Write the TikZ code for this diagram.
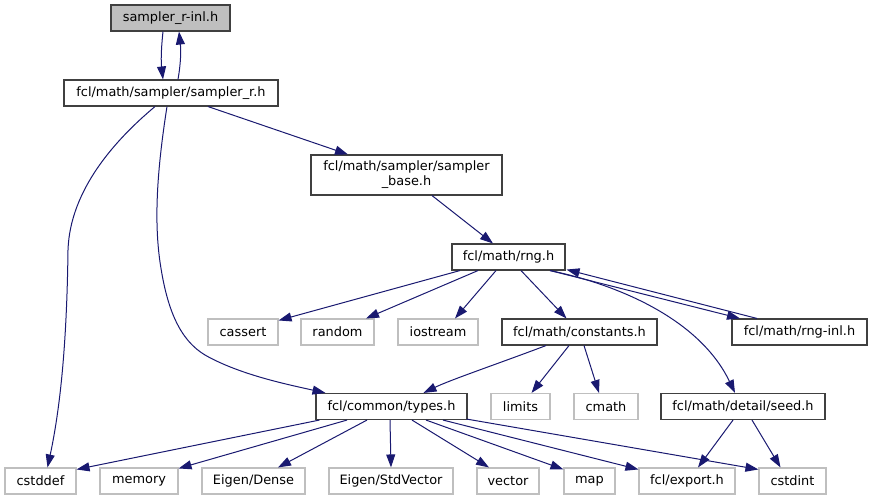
\documentclass[tikz,border=0pt]{standalone}
\usepackage{fontspec}
\setmainfont{DejaVu Sans}
\usetikzlibrary{arrows.meta}
\definecolor{edgec}{HTML}{191970}
\definecolor{dk}{HTML}{404040}
\definecolor{lt}{HTML}{BFBFBF}
\begin{document}
\begin{tikzpicture}[x=1pt,y=-1pt,
  box/.style={draw=dk, line width=1.1pt, fill=white, inner sep=0pt, minimum height=26pt,
    font=\fontsize{12.9}{15}\selectfont, text=black},
  sysbox/.style={box, draw=lt},
  rootbox/.style={box, fill=lt},
  edge/.style={draw=edgec, line width=1pt, -{Triangle[length=13pt,width=9pt]}}]
\useasboundingbox (0,0) rectangle (872,500);

\node[rootbox, minimum width=119pt] (inl) at (170.5,18) {sampler\_r-inl.h};
\node[box, minimum width=214pt] (sr) at (171,93) {fcl/math/sampler/sampler\_r.h};
\node[box, minimum width=191pt, minimum height=40pt, align=center] (base) at (406.5,175) {fcl/math/sampler/sampler\\\_base.h};
\node[box, minimum width=113pt] (rng) at (508.5,257) {fcl/math/rng.h};
\node[sysbox, minimum width=70pt] (cassert) at (243,332) {cassert};
\node[sysbox, minimum width=73pt] (random) at (337.5,332) {random};
\node[sysbox, minimum width=80pt] (iostream) at (438,332) {iostream};
\node[box, minimum width=155pt] (const) at (579.5,332) {fcl/math/constants.h};
\node[box, minimum width=135pt] (rnginl) at (799.5,332) {fcl/math/rng-inl.h};
\node[box, minimum width=151pt] (types) at (391.5,406.5) {fcl/common/types.h};
\node[sysbox, minimum width=59pt] (limits) at (520.5,406.5) {limits};
\node[sysbox, minimum width=64pt] (cmath) at (606,406.5) {cmath};
\node[box, minimum width=164pt] (seed) at (743,406.5) {fcl/math/detail/seed.h};
\node[sysbox, minimum width=71pt] (cstddef) at (40.5,481) {cstddef};
\node[sysbox, minimum width=78pt] (memory) at (139,481) {memory};
\node[sysbox, minimum width=103pt] (dense) at (253.5,481) {Eigen/Dense};
\node[sysbox, minimum width=124pt] (stdvec) at (391,481) {Eigen/StdVector};
\node[sysbox, minimum width=62pt] (vector) at (508,481) {vector};
\node[sysbox, minimum width=51pt] (map) at (589.5,481) {map};
\node[sysbox, minimum width=96pt] (export) at (687,481) {fcl/export.h};
\node[sysbox, minimum width=67pt] (cstdint) at (792.5,481) {cstdint};

% sampler_r-inl <-> sampler_r
\draw[edge] ([xshift=-7.5pt]inl.south) .. controls (161,50) and (161,62) .. ([xshift=-8pt]sr.north);
\draw[edge] ([xshift=7pt]sr.north) .. controls (181,62) and (181,50) .. ([xshift=8.5pt]inl.south);

% sampler_r -> cstddef
\draw[edge] ([xshift=-16pt]sr.south) .. controls (115,140) and (70,190) .. (68,250)
  .. controls (67,330) and (62,400) .. ([xshift=7pt]cstddef.north);
% sampler_r -> types
\draw[edge] ([xshift=-4pt]sr.south) .. controls (157,170) and (154,220) .. (160,262)
  .. controls (167,310) and (180,340) .. (205,355)
  .. controls (240,375) and (290,385) .. ([xshift=-66pt]types.north);
% sampler_r -> base
\draw[edge] ([xshift=37pt]sr.south) -- ([xshift=-58.5pt]base.north);
% base -> rng
\draw[edge] ([xshift=25.5pt]base.south) -- ([xshift=-15.5pt]rng.north);

% rng -> ...
\draw[edge] ([xshift=-48.5pt]rng.south) -- ([yshift=-2pt]cassert.north east);
\draw[edge] ([xshift=-30.5pt]rng.south) -- ([xshift=28.5pt]random.north);
\draw[edge] ([xshift=-12.5pt]rng.south) -- ([xshift=17pt]iostream.north);
\draw[edge] ([xshift=12.5pt]rng.south) -- ([xshift=-13pt]const.north);
\draw[edge] ([xshift=41.5pt]rng.south) .. controls (620,285) and (700,320) .. ([xshift=-8pt]seed.north);
\draw[edge] ([xshift=41.5pt]rng.south) -- ([xshift=-59.5pt]rnginl.north);
\draw[edge] ([xshift=-42.5pt]rnginl.north) -- ([xshift=1pt,yshift=1pt]rng.south east);

% constants -> ...
\draw[edge] ([xshift=-33.5pt]const.south) .. controls (500,363) and (450,380) .. ([xshift=32pt]types.north);
\draw[edge] ([xshift=-10.5pt]const.south) -- ([xshift=11pt]limits.north);
\draw[edge] ([xshift=4.5pt]const.south) -- ([xshift=-7pt]cmath.north);

% types -> ...
\draw[edge] ([xshift=4pt]types.south west) -- ([yshift=-2pt]cstddef.north east);
\draw[edge] ([xshift=-44.5pt]types.south) -- ([yshift=-1pt]memory.north east);
\draw[edge] ([xshift=-24.5pt]types.south) -- ([xshift=24.5pt]dense.north);
\draw[edge] ([xshift=-1.5pt]types.south) -- (stdvec.north);
\draw[edge] ([xshift=20.5pt]types.south) -- ([xshift=-19pt]vector.north);
\draw[edge] ([xshift=34.5pt]types.south) -- ([yshift=-2pt]map.north west);
\draw[edge] ([xshift=51.5pt]types.south) -- ([yshift=-2pt]export.north west);
\draw[edge] ([xshift=-1pt,yshift=1pt]types.south east) -- ([yshift=-2pt]cstdint.north west);

% seed -> ...
\draw[edge] ([xshift=-10pt]seed.south) -- ([xshift=11pt]export.north);
\draw[edge] ([xshift=9pt]seed.south) -- ([xshift=-12pt]cstdint.north);
\end{tikzpicture}
\end{document}
